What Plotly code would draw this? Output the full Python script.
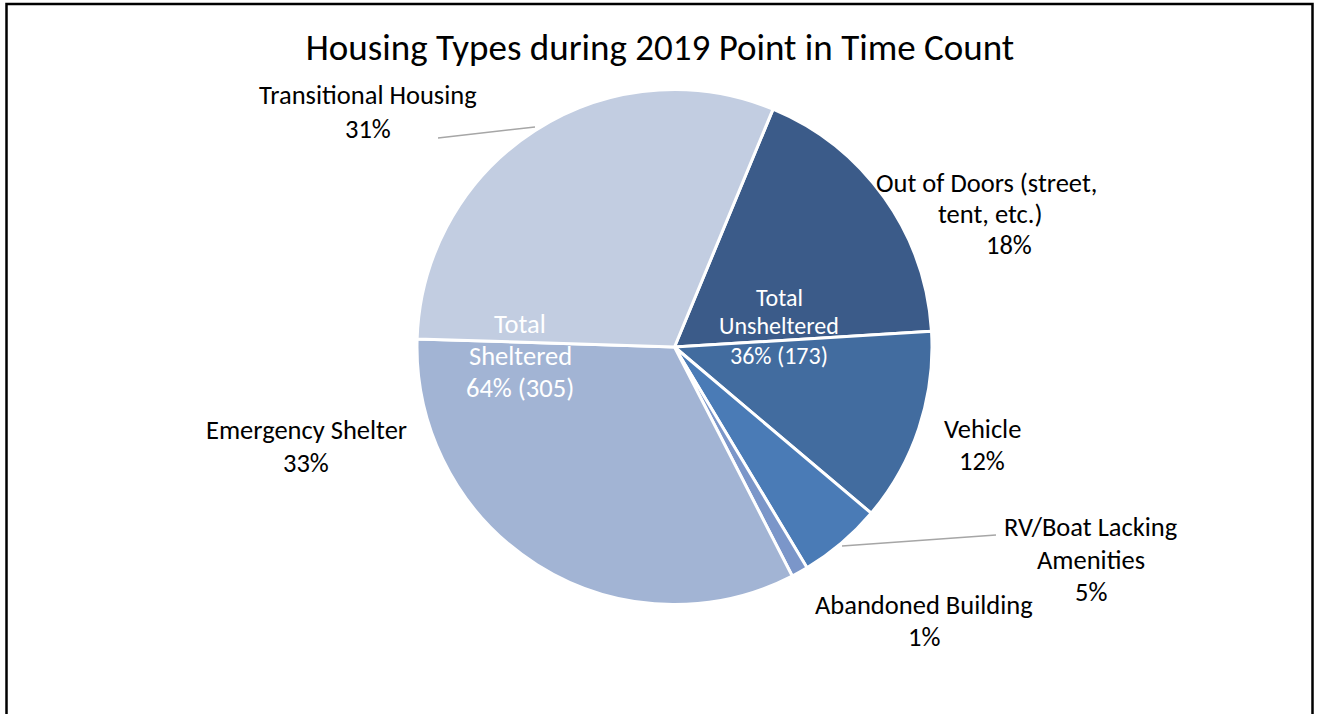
import plotly.graph_objects as go

# Point-in-time count by housing type (persons)
categories = ["Out of Doors (street, tent, etc.)", "Vehicle", "RV/Boat Lacking Amenities",
              "Abandoned Building", "Emergency Shelter", "Transitional Housing"]
counts = [85, 58, 25, 5, 158, 147]
colors = ["#3B5B89", "#426C9F", "#4A7BB6", "#7B96C9", "#A2B4D4", "#C2CDE1"]
sheltered = ["Emergency Shelter", "Transitional Housing"]

W, H = 1317, 714
FONT = "Calibri, Carlito, Lato, sans-serif"
LABEL_SIZE = 26.5


def px(x):
    return x / W


def py(y):
    return 1 - y / H


total = sum(counts)
pct = {c: round(100 * v / total) for c, v in zip(categories, counts)}
n_shel = sum(v for c, v in zip(categories, counts) if c in sheltered)
n_unsh = total - n_shel

fig = go.Figure(go.Pie(
    labels=categories,
    values=counts,
    sort=False,
    direction="clockwise",
    rotation=22.5,
    marker=dict(colors=colors, line=dict(color="white", width=3)),
    textinfo="none",
    hoverinfo="label+value+percent",
    domain=dict(x=[px(417), px(932)], y=[py(604.5), py(89.5)]),
    showlegend=False,
))

# outside labels: (category, lines of name, x centre, y of first line, line step)
label_layout = [
    ("Transitional Housing", ["Transitional Housing"], 368, 95, 34),
    ("Out of Doors (street, tent, etc.)", ["Out of Doors (street,", "tent, etc.)"], 980, 183, 31),
    ("Vehicle", ["Vehicle"], 982, 429, 32),
    ("RV/Boat Lacking Amenities", ["RV/Boat Lacking", "Amenities"], 1091, 527, 32.5),
    ("Abandoned Building", ["Abandoned Building"], 924, 605, 32),
    ("Emergency Shelter", ["Emergency Shelter"], 306, 430, 33),
]
line_offsets = {"Out of Doors (street, tent, etc.)": [6, 10, 29]}

annotations = []
for cat, lines, xc, y0, step in label_layout:
    rows = lines + [f"{pct[cat]}%"]
    offs = line_offsets.get(cat, [0] * len(rows))
    for i, (t, dx) in enumerate(zip(rows, offs)):
        annotations.append(dict(
            text=t, x=px(xc + dx), y=py(y0 + i * step), xref="paper", yref="paper",
            showarrow=False, xanchor="center", yanchor="middle",
            font=dict(family=FONT, size=LABEL_SIZE, color="#000000"),
        ))

# group totals drawn over the pie: (lines, x centre, y of first line, line step, font size)
groups = [
    (["Total", "Sheltered", f"{round(100 * n_shel / total)}% ({n_shel})"], 520, 324, 32, LABEL_SIZE),
    (["Total", "Unsheltered", f"{round(100 * n_unsh / total)}% ({n_unsh})"], 779, 297, 29, 24),
]
for rows, xc, y0, step, size in groups:
    for i, t in enumerate(rows):
        annotations.append(dict(
            text=t, x=px(xc), y=py(y0 + i * step), xref="paper", yref="paper",
            showarrow=False, xanchor="center", yanchor="middle",
            font=dict(family=FONT, size=size, color="#FFFFFF"),
        ))

shapes = [
    # chart frame (open at the bottom edge of the page)
    dict(type="rect", xref="paper", yref="paper", x0=px(6.5), x1=px(1312.5),
         y0=py(730), y1=py(4), line=dict(color="#000000", width=2.5)),
    # leader lines
    dict(type="line", xref="paper", yref="paper", x0=px(438), y0=py(138), x1=px(535), y1=py(127),
         line=dict(color="#A6A6A6", width=1.5)),
    dict(type="line", xref="paper", yref="paper", x0=px(842), y0=py(546), x1=px(996), y1=py(535),
         line=dict(color="#A6A6A6", width=1.5)),
]

fig.update_layout(
    width=W, height=H,
    margin=dict(l=0, r=0, t=0, b=0),
    paper_bgcolor="white", plot_bgcolor="white",
    title=dict(text="Housing Types during 2019 Point in Time Count", x=px(660), y=py(47),
               xanchor="center", yanchor="middle",
               font=dict(family=FONT, size=37, color="#000000")),
    annotations=annotations,
    shapes=shapes,
)

fig.write_html("out.html")
